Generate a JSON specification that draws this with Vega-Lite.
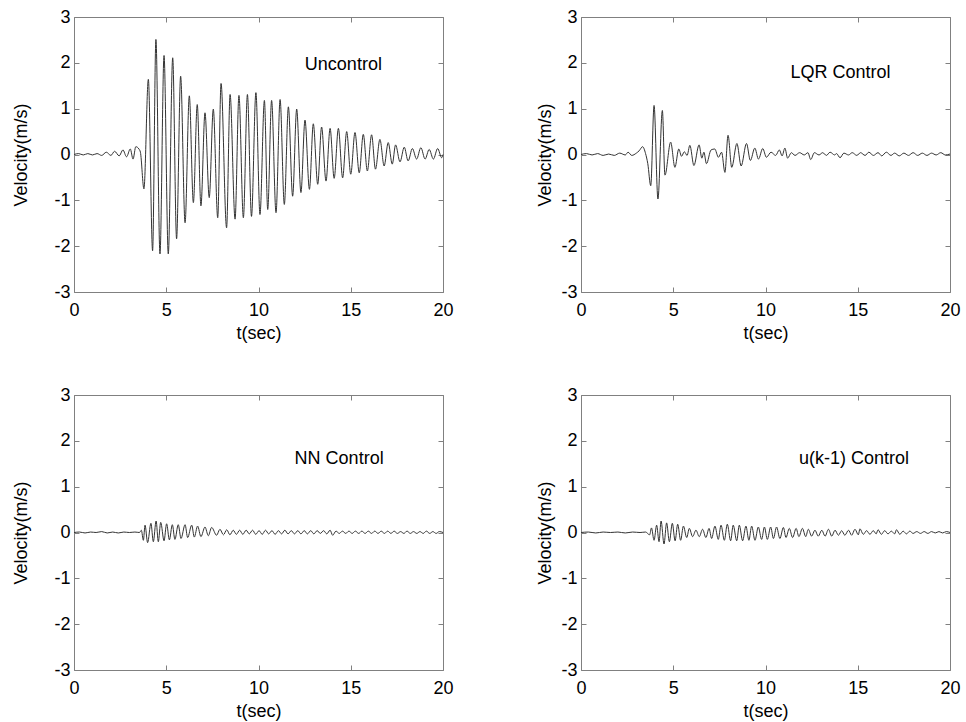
{
  "$schema": "https://vega.github.io/schema/vega-lite/v6.json",
  "background": "white",
  "padding": {"left": 12, "top": 7, "right": 5, "bottom": 5},
  "config": {
    "font": "Liberation Sans",
    "view": {"stroke": "#808080", "strokeWidth": 1},
    "axis": {
      "domain": false, "grid": false, "ticks": true, "tickSize": -5, "tickColor": "#808080", "tickWidth": 1,
      "labelFont": "Liberation Sans", "labelFontSize": 18, "labelColor": "#000000", "labelFlush": false, "labelOverlap": false,
      "labelExpr": "replace(datum.label, '\u2212', '-')",
      "titleFont": "Liberation Sans", "titleFontSize": 18, "titleFontWeight": "normal", "titleColor": "#000000"
    },
    "axisX": {"labelPadding": 14, "titlePadding": 5},
    "axisY": {"labelPadding": 9, "titlePadding": 6},
    "line": {"stroke": "#333333", "strokeWidth": 1, "interpolate": "monotone"},
    "text": {"font": "Liberation Sans", "fontSize": 18, "color": "#000000", "align": "center", "baseline": "middle"}
  },
  "datasets": {
    "unc": [
      {"t":0,"v":0},{"t":0.25,"v":0.02},{"t":0.5,"v":-0.01},{"t":0.75,"v":0.02},{"t":1.0,"v":-0.01},{"t":1.25,"v":0.02},{"t":1.5,"v":-0.02},{"t":1.75,"v":0.05},{"t":2.0,"v":-0.02},{"t":2.2,"v":0.07},{"t":2.45,"v":-0.03},{"t":2.65,"v":0.1},{"t":2.85,"v":-0.05},{"t":3.05,"v":0.12},{"t":3.2,"v":-0.1},{"t":3.35,"v":0.17},{"t":3.52,"v":0.12},{"t":3.6,"v":0.05},
      {"t":3.79,"v":-0.75},{"t":4.03,"v":1.64},{"t":4.26,"v":-2.1},{"t":4.44,"v":2.51},{"t":4.66,"v":-2.17},{"t":4.88,"v":2.16},{"t":5.11,"v":-2.17},{"t":5.35,"v":2.11},{"t":5.56,"v":-1.84},{"t":5.78,"v":1.71},{"t":6.02,"v":-1.49},{"t":6.25,"v":1.28},{"t":6.47,"v":-1.05},{"t":6.68,"v":1.09},{"t":6.88,"v":-1.12},{"t":7.1,"v":0.91},{"t":7.33,"v":-0.94},{"t":7.55,"v":0.99},{"t":7.79,"v":-1.38},{"t":7.97,"v":1.55},{"t":8.27,"v":-1.6},{"t":8.46,"v":1.31},{"t":8.73,"v":-1.41},{"t":8.94,"v":1.29},{"t":9.18,"v":-1.38},{"t":9.4,"v":1.31},{"t":9.62,"v":-1.35},{"t":9.86,"v":1.35},
      {"t":10.08,"v":-1.31},{"t":10.32,"v":1.18},{"t":10.5,"v":-1.2},{"t":10.71,"v":1.18},{"t":10.95,"v":-1.27},{"t":11.17,"v":1.2},{"t":11.4,"v":-1.09},{"t":11.62,"v":1.04},{"t":11.85,"v":-0.91},{"t":12.07,"v":0.99},{"t":12.3,"v":-0.83},{"t":12.52,"v":0.75},{"t":12.76,"v":-0.76},{"t":12.97,"v":0.67},{"t":13.21,"v":-0.65},{"t":13.42,"v":0.6},{"t":13.66,"v":-0.58},{"t":13.88,"v":0.57},{"t":14.1,"v":-0.52},{"t":14.33,"v":0.57},{"t":14.56,"v":-0.51},{"t":14.78,"v":0.5},{"t":15.0,"v":-0.43},{"t":15.23,"v":0.48},{"t":15.46,"v":-0.4},{"t":15.68,"v":0.44},{"t":15.9,"v":-0.36},{"t":16.13,"v":0.43},{"t":16.34,"v":-0.32},{"t":16.58,"v":0.33},{"t":16.81,"v":-0.25},{"t":17.03,"v":0.26},{"t":17.25,"v":-0.21},{"t":17.43,"v":0.21},{"t":17.67,"v":-0.16},{"t":17.9,"v":0.16},{"t":18.11,"v":-0.14},{"t":18.34,"v":0.13},{"t":18.57,"v":-0.1},{"t":18.8,"v":0.15},{"t":19.03,"v":-0.1},{"t":19.25,"v":0.11},{"t":19.48,"v":-0.1},{"t":19.71,"v":0.13},{"t":19.93,"v":-0.07},{"t":20,"v":0}
    ],
    "lqr": [
      {"t":0,"v":0},{"t":0.3,"v":0.02},{"t":0.6,"v":-0.01},{"t":0.9,"v":0.02},{"t":1.2,"v":-0.02},{"t":1.5,"v":0.01},{"t":1.8,"v":-0.02},{"t":2.1,"v":0.03},{"t":2.4,"v":-0.01},{"t":2.55,"v":0.05},{"t":2.75,"v":-0.02},{"t":3.0,"v":0.03},{"t":3.15,"v":0.08},{"t":3.34,"v":0.17},{"t":3.5,"v":0.02},{"t":3.62,"v":-0.2},{"t":3.78,"v":-0.68},{"t":3.96,"v":1.07},{"t":4.17,"v":-0.97},{"t":4.41,"v":0.96},{"t":4.55,"v":-0.45},{"t":4.86,"v":0.27},{"t":5.09,"v":-0.28},{"t":5.3,"v":0.12},{"t":5.45,"v":-0.04},{"t":5.6,"v":0.06},{"t":5.75,"v":-0.02},{"t":5.9,"v":0.2},{"t":6.12,"v":-0.24},{"t":6.4,"v":0.21},{"t":6.55,"v":-0.08},{"t":6.66,"v":0.05},{"t":6.8,"v":-0.2},{"t":7.05,"v":0.1},{"t":7.25,"v":0.12},{"t":7.45,"v":-0.06},{"t":7.62,"v":0.05},{"t":7.8,"v":-0.39},{"t":7.97,"v":0.42},{"t":8.17,"v":-0.28},{"t":8.45,"v":0.24},{"t":8.68,"v":-0.25},{"t":8.97,"v":0.24},{"t":9.18,"v":-0.13},{"t":9.42,"v":0.14},{"t":9.62,"v":-0.1},{"t":9.85,"v":0.13},{"t":10.05,"v":-0.06},{"t":10.3,"v":0.05},{"t":10.55,"v":-0.02},{"t":10.75,"v":0.1},{"t":10.9,"v":-0.03},{"t":11.05,"v":0.14},{"t":11.2,"v":-0.08},{"t":11.4,"v":0.04},{"t":11.6,"v":-0.02},{"t":11.85,"v":0.04},{"t":12.1,"v":-0.01},{"t":12.3,"v":0.04},{"t":12.45,"v":-0.11},{"t":12.65,"v":0.04},{"t":12.9,"v":-0.01},{"t":13.1,"v":0.04},{"t":13.3,"v":-0.02},{"t":13.5,"v":0.05},{"t":13.75,"v":-0.01},{"t":13.85,"v":0.02},{"t":14.04,"v":-0.07},{"t":14.25,"v":0.03},{"t":14.5,"v":-0.01},{"t":14.7,"v":0.04},{"t":14.95,"v":-0.02},{"t":15.15,"v":0.04},{"t":15.4,"v":-0.02},{"t":15.6,"v":0.05},{"t":15.85,"v":-0.02},{"t":16.1,"v":0.04},{"t":16.3,"v":-0.03},{"t":16.55,"v":0.05},{"t":16.8,"v":-0.02},{"t":17.0,"v":0.03},{"t":17.25,"v":-0.03},{"t":17.5,"v":0.03},{"t":17.75,"v":-0.02},{"t":18.0,"v":0.04},{"t":18.25,"v":-0.02},{"t":18.5,"v":0.03},{"t":18.75,"v":-0.02},{"t":19.0,"v":0.03},{"t":19.25,"v":-0.01},{"t":19.5,"v":0.04},{"t":19.75,"v":-0.01},{"t":20,"v":0.01}
    ],
    "nn": [
      {"t":0,"v":0},{"t":0.3,"v":0.01},{"t":0.6,"v":-0.01},{"t":0.9,"v":0.01},{"t":1.2,"v":0},{"t":1.5,"v":0.02},{"t":1.8,"v":-0.01},{"t":2.1,"v":0.01},{"t":2.4,"v":-0.01},{"t":2.7,"v":0.01},{"t":3.0,"v":0},{"t":3.3,"v":0.01},{"t":3.55,"v":0},{"t":3.65,"v":0.05},{"t":3.76,"v":-0.17},{"t":3.85,"v":0.16},{"t":3.99,"v":-0.22},{"t":4.17,"v":0.2},{"t":4.3,"v":-0.2},{"t":4.45,"v":0.25},{"t":4.57,"v":-0.2},{"t":4.7,"v":0.22},{"t":4.88,"v":-0.18},{"t":5.02,"v":0.19},{"t":5.17,"v":-0.16},{"t":5.33,"v":0.17},{"t":5.47,"v":-0.15},{"t":5.65,"v":0.17},{"t":5.8,"v":-0.13},{"t":6.02,"v":0.17},{"t":6.16,"v":-0.11},{"t":6.38,"v":0.16},{"t":6.52,"v":-0.1},{"t":6.7,"v":0.14},{"t":6.88,"v":-0.09},{"t":7.1,"v":0.12},{"t":7.28,"v":-0.07},{"t":7.46,"v":0.11},{"t":7.73,"v":-0.06},{"t":7.91,"v":0.07},{"t":8.1,"v":-0.05},{"t":8.28,"v":0.06},{"t":8.45,"v":-0.05},{"t":8.63,"v":0.05},{"t":8.8,"v":-0.04},{"t":8.98,"v":0.05},{"t":9.15,"v":-0.04},{"t":9.33,"v":0.05},{"t":9.5,"v":-0.03},{"t":9.68,"v":0.05},{"t":9.85,"v":-0.04},{"t":10.03,"v":0.04},{"t":10.2,"v":-0.04},{"t":10.38,"v":0.05},{"t":10.55,"v":-0.03},{"t":10.73,"v":0.04},{"t":10.9,"v":-0.04},{"t":11.08,"v":0.04},{"t":11.25,"v":-0.03},{"t":11.43,"v":0.05},{"t":11.6,"v":-0.03},{"t":11.78,"v":0.04},{"t":11.95,"v":-0.03},{"t":12.13,"v":0.04},{"t":12.3,"v":-0.03},{"t":12.48,"v":0.04},{"t":12.65,"v":-0.03},{"t":12.83,"v":0.04},{"t":13.0,"v":-0.03},{"t":13.18,"v":0.04},{"t":13.35,"v":-0.02},{"t":13.53,"v":0.04},{"t":13.7,"v":-0.03},{"t":13.88,"v":0.05},{"t":14.02,"v":-0.06},{"t":14.2,"v":0.03},{"t":14.38,"v":-0.02},{"t":14.55,"v":0.03},{"t":14.73,"v":-0.02},{"t":14.9,"v":0.03},{"t":15.08,"v":-0.02},{"t":15.25,"v":0.03},{"t":15.43,"v":-0.02},{"t":15.6,"v":0.03},{"t":15.78,"v":-0.02},{"t":15.95,"v":0.03},{"t":16.13,"v":-0.02},{"t":16.3,"v":0.03},{"t":16.48,"v":-0.02},{"t":16.65,"v":0.03},{"t":16.83,"v":-0.02},{"t":17.0,"v":0.03},{"t":17.18,"v":-0.02},{"t":17.35,"v":0.03},{"t":17.53,"v":-0.02},{"t":17.7,"v":0.02},{"t":17.88,"v":-0.02},{"t":18.05,"v":0.03},{"t":18.23,"v":-0.02},{"t":18.4,"v":0.02},{"t":18.58,"v":-0.02},{"t":18.75,"v":0.02},{"t":18.93,"v":-0.02},{"t":19.1,"v":0.03},{"t":19.28,"v":-0.02},{"t":19.45,"v":0.02},{"t":19.63,"v":-0.02},{"t":19.8,"v":0.02},{"t":20,"v":0}
    ],
    "uk": [
      {"t":0,"v":0},{"t":0.4,"v":0.01},{"t":0.8,"v":-0.01},{"t":1.2,"v":0.01},{"t":1.6,"v":0},{"t":2.0,"v":0.01},{"t":2.4,"v":-0.01},{"t":2.8,"v":0.01},{"t":3.2,"v":0},{"t":3.5,"v":0.01},{"t":3.72,"v":-0.05},{"t":3.82,"v":0.1},{"t":3.96,"v":-0.17},{"t":4.1,"v":0.16},{"t":4.23,"v":-0.2},{"t":4.34,"v":0.25},{"t":4.5,"v":-0.25},{"t":4.64,"v":0.21},{"t":4.79,"v":-0.2},{"t":4.95,"v":0.2},{"t":5.1,"v":-0.18},{"t":5.24,"v":0.18},{"t":5.4,"v":-0.17},{"t":5.55,"v":0.14},{"t":5.73,"v":-0.11},{"t":5.87,"v":0.09},{"t":6.05,"v":-0.09},{"t":6.23,"v":0.05},{"t":6.41,"v":-0.09},{"t":6.59,"v":0.07},{"t":6.77,"v":-0.11},{"t":6.94,"v":0.09},{"t":7.08,"v":-0.13},{"t":7.26,"v":0.14},{"t":7.44,"v":-0.15},{"t":7.59,"v":0.16},{"t":7.77,"v":-0.17},{"t":7.93,"v":0.18},{"t":8.11,"v":-0.18},{"t":8.25,"v":0.16},{"t":8.44,"v":-0.18},{"t":8.58,"v":0.16},{"t":8.76,"v":-0.18},{"t":8.94,"v":0.14},{"t":9.1,"v":-0.17},{"t":9.25,"v":0.14},{"t":9.43,"v":-0.17},{"t":9.61,"v":0.12},{"t":9.79,"v":-0.15},{"t":9.94,"v":0.12},{"t":10.1,"v":-0.15},{"t":10.28,"v":0.12},{"t":10.43,"v":-0.13},{"t":10.6,"v":0.12},{"t":10.78,"v":-0.13},{"t":10.97,"v":0.11},{"t":11.11,"v":-0.11},{"t":11.29,"v":0.09},{"t":11.47,"v":-0.11},{"t":11.66,"v":0.09},{"t":11.81,"v":-0.09},{"t":12.0,"v":0.09},{"t":12.18,"v":-0.09},{"t":12.32,"v":0.07},{"t":12.5,"v":-0.08},{"t":12.68,"v":0.05},{"t":12.86,"v":-0.08},{"t":13.05,"v":0.05},{"t":13.23,"v":-0.08},{"t":13.41,"v":0.07},{"t":13.59,"v":-0.08},{"t":13.77,"v":0.05},{"t":13.95,"v":-0.06},{"t":14.13,"v":0.04},{"t":14.3,"v":-0.06},{"t":14.5,"v":0.05},{"t":14.67,"v":-0.06},{"t":14.85,"v":0.07},{"t":15.03,"v":-0.05},{"t":15.12,"v":0.08},{"t":15.3,"v":-0.04},{"t":15.48,"v":0.04},{"t":15.66,"v":-0.04},{"t":15.84,"v":0.04},{"t":16.0,"v":-0.03},{"t":16.1,"v":0.06},{"t":16.28,"v":-0.04},{"t":16.46,"v":0.04},{"t":16.64,"v":-0.03},{"t":16.82,"v":0.03},{"t":17.0,"v":-0.03},{"t":17.1,"v":0.06},{"t":17.28,"v":-0.04},{"t":17.46,"v":0.03},{"t":17.64,"v":-0.03},{"t":17.82,"v":0.03},{"t":18.0,"v":-0.02},{"t":18.2,"v":0.02},{"t":18.4,"v":-0.02},{"t":18.6,"v":0.02},{"t":18.8,"v":-0.02},{"t":19.0,"v":0.02},{"t":19.2,"v":-0.01},{"t":19.4,"v":0.02},{"t":19.6,"v":-0.01},{"t":19.8,"v":0.02},{"t":20,"v":0}
    ]
  },
  "concat": [
    {
      "width": 369, "height": 275,
      "layer": [
        {"data": {"name": "unc"}, "mark": {"type": "line"},
         "encoding": {
           "x": {"field": "t", "type": "quantitative", "scale": {"domain": [0, 20], "nice": false}, "axis": {"orient": "bottom", "values": [0,5,10,15,20], "title": "t(sec)"}},
           "y": {"field": "v", "type": "quantitative", "scale": {"domain": [-3, 3], "nice": false}, "axis": {"orient": "left", "values": [-3,-2,-1,0,1,2,3], "title": "Velocity(m/s)", "titlePadding": 23}}
         }},
        {"data": {"values": [{"t": 14.6, "v": 1.96, "label": "Uncontrol"}]}, "mark": {"type": "text"},
         "encoding": {
           "x": {"field": "t", "type": "quantitative", "axis": {"orient": "top", "values": [0,5,10,15,20], "labels": false, "title": null}},
           "y": {"field": "v", "type": "quantitative", "axis": {"orient": "right", "values": [-3,-2,-1,0,1,2,3], "labels": false, "title": null}},
           "text": {"field": "label"}
         }}
      ],
      "resolve": {"axis": {"x": "independent", "y": "independent"}}
    },
    {
      "width": 369, "height": 275,
      "layer": [
        {"data": {"name": "lqr"}, "mark": {"type": "line"},
         "encoding": {
           "x": {"field": "t", "type": "quantitative", "scale": {"domain": [0, 20], "nice": false}, "axis": {"orient": "bottom", "values": [0,5,10,15,20], "title": "t(sec)"}},
           "y": {"field": "v", "type": "quantitative", "scale": {"domain": [-3, 3], "nice": false}, "axis": {"orient": "left", "values": [-3,-2,-1,0,1,2,3], "title": "Velocity(m/s)"}}
         }},
        {"data": {"values": [{"t": 14.07, "v": 1.77, "label": "LQR Control"}]}, "mark": {"type": "text"},
         "encoding": {
           "x": {"field": "t", "type": "quantitative", "axis": {"orient": "top", "values": [0,5,10,15,20], "labels": false, "title": null}},
           "y": {"field": "v", "type": "quantitative", "axis": {"orient": "right", "values": [-3,-2,-1,0,1,2,3], "labels": false, "title": null}},
           "text": {"field": "label"}
         }}
      ],
      "resolve": {"axis": {"x": "independent", "y": "independent"}}
    },
    {
      "width": 369, "height": 275,
      "layer": [
        {"data": {"name": "nn"}, "mark": {"type": "line"},
         "encoding": {
           "x": {"field": "t", "type": "quantitative", "scale": {"domain": [0, 20], "nice": false}, "axis": {"orient": "bottom", "values": [0,5,10,15,20], "title": "t(sec)"}},
           "y": {"field": "v", "type": "quantitative", "scale": {"domain": [-3, 3], "nice": false}, "axis": {"orient": "left", "values": [-3,-2,-1,0,1,2,3], "title": "Velocity(m/s)", "titlePadding": 23}}
         }},
        {"data": {"values": [{"t": 14.37, "v": 1.61, "label": "NN Control"}]}, "mark": {"type": "text"},
         "encoding": {
           "x": {"field": "t", "type": "quantitative", "axis": {"orient": "top", "values": [0,5,10,15,20], "labels": false, "title": null}},
           "y": {"field": "v", "type": "quantitative", "axis": {"orient": "right", "values": [-3,-2,-1,0,1,2,3], "labels": false, "title": null}},
           "text": {"field": "label"}
         }}
      ],
      "resolve": {"axis": {"x": "independent", "y": "independent"}}
    },
    {
      "width": 369, "height": 275,
      "layer": [
        {"data": {"name": "uk"}, "mark": {"type": "line"},
         "encoding": {
           "x": {"field": "t", "type": "quantitative", "scale": {"domain": [0, 20], "nice": false}, "axis": {"orient": "bottom", "values": [0,5,10,15,20], "title": "t(sec)"}},
           "y": {"field": "v", "type": "quantitative", "scale": {"domain": [-3, 3], "nice": false}, "axis": {"orient": "left", "values": [-3,-2,-1,0,1,2,3], "title": "Velocity(m/s)"}}
         }},
        {"data": {"values": [{"t": 14.8, "v": 1.6, "label": "u(k-1) Control"}]}, "mark": {"type": "text"},
         "encoding": {
           "x": {"field": "t", "type": "quantitative", "axis": {"orient": "top", "values": [0,5,10,15,20], "labels": false, "title": null}},
           "y": {"field": "v", "type": "quantitative", "axis": {"orient": "right", "values": [-3,-2,-1,0,1,2,3], "labels": false, "title": null}},
           "text": {"field": "label"}
         }}
      ],
      "resolve": {"axis": {"x": "independent", "y": "independent"}}
    }
  ],
  "columns": 2,
  "spacing": {"row": 103, "column": 138},
  "bounds": "flush"
}
